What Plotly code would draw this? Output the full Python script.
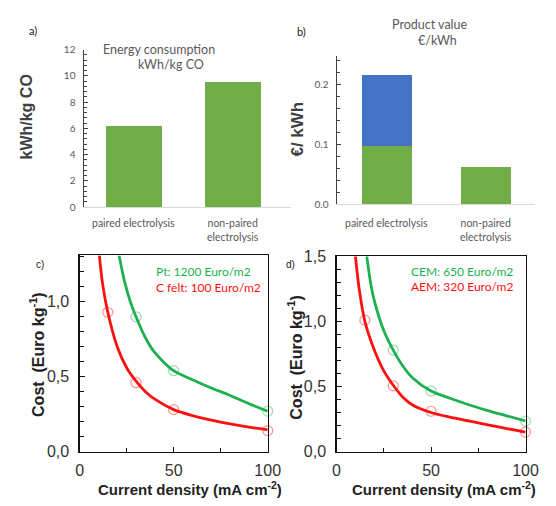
import plotly.graph_objects as go

W, H = 556, 506

# ---------------- data ----------------
bar_categories = ["paired electrolysis", "non-paired<br>electrolysis"]
energy_kwh_per_kg = [6.2, 9.55]
value_green = [0.097, 0.062]
value_blue = [0.119, 0.0]

# panel c (Pt / C felt)
c_pt_pts_x = [30, 50, 100]
c_pt_pts_y = [0.90, 0.54, 0.27]
c_cf_pts_x = [15, 30, 50, 100]
c_cf_pts_y = [0.93, 0.46, 0.28, 0.14]
c_pt_curve_x = [21, 24, 27, 30, 35, 40, 50, 60, 70, 80, 90, 100]
c_pt_curve_y = [1.31, 1.13, 1.00, 0.90, 0.76, 0.66, 0.54, 0.48, 0.425, 0.375, 0.32, 0.27]
c_cf_curve_x = [10.5, 12, 15, 20, 25, 30, 35, 40, 50, 60, 70, 80, 90, 100]
c_cf_curve_y = [1.31, 1.14, 0.93, 0.70, 0.56, 0.47, 0.40, 0.35, 0.28, 0.24, 0.21, 0.185, 0.163, 0.145]

# panel d (CEM / AEM)
d_cem_pts_x = [30, 50, 100]
d_cem_pts_y = [0.78, 0.465, 0.234]
d_aem_pts_x = [15, 30, 50, 100]
d_aem_pts_y = [1.01, 0.505, 0.31, 0.15]
d_cem_curve_x = [16, 18, 20, 25, 30, 35, 40, 50, 60, 70, 80, 90, 100]
d_cem_curve_y = [1.5, 1.3, 1.16, 0.93, 0.78, 0.66, 0.57, 0.465, 0.41, 0.36, 0.315, 0.275, 0.235]
d_aem_curve_x = [10, 12, 15, 20, 25, 30, 35, 40, 50, 60, 70, 80, 90, 100]
d_aem_curve_y = [1.5, 1.25, 1.0, 0.78, 0.62, 0.51, 0.42, 0.36, 0.30, 0.265, 0.235, 0.205, 0.177, 0.15]

c_ytick_vals = [0, 0.5, 1.0]
c_ytick_text = ["0,0", "0,5", "1,0"]
d_ytick_vals = [0, 0.5, 1.0, 1.5]
d_ytick_text = ["0,0", "0,5", "1,0", "1,5"]
x_tick_vals = [0, 50, 100]
x_tick_text = ["0", "50", "100"]

# ---------------- style ----------------
GREEN_BAR = "#70AD47"
BLUE_BAR = "#4472C4"
LGREEN = "#1DB04E"
LRED = "#FF1010"
OFFICE = "Lato, Carlito, sans-serif"
ARIAL = "Liberation Sans, Arial, sans-serif"

def fx(px):
    return px / W

def fy(py):
    return 1 - py / H

fig = go.Figure()

# panel a
fig.add_trace(go.Bar(x=bar_categories, y=energy_kwh_per_kg, marker_color=GREEN_BAR, marker_line_width=0,
                     width=0.57, xaxis="x", yaxis="y", showlegend=False))
# panel b
fig.add_trace(go.Bar(x=bar_categories, y=value_green, marker_color=GREEN_BAR, marker_line_width=0,
                     width=0.51, xaxis="x2", yaxis="y2", showlegend=False))
fig.add_trace(go.Bar(x=bar_categories, y=value_blue, marker_color=BLUE_BAR, marker_line_width=0,
                     width=0.51, xaxis="x2", yaxis="y2", showlegend=False))

def add_curve(x, y, color, xa, ya):
    fig.add_trace(go.Scatter(x=x, y=y, mode="lines", line=dict(color=color, width=2.8, shape="spline", smoothing=0.8),
                             xaxis=xa, yaxis=ya, showlegend=False))

def add_pts(x, y, color, xa, ya):
    fig.add_trace(go.Scatter(x=x, y=y, mode="markers",
                             marker=dict(symbol="circle-open", size=10, color=color, opacity=0.45, line=dict(width=1.2)),
                             cliponaxis=False, xaxis=xa, yaxis=ya, showlegend=False))

add_curve(c_pt_curve_x, c_pt_curve_y, LGREEN, "x3", "y3")
add_curve(c_cf_curve_x, c_cf_curve_y, LRED, "x3", "y3")
add_pts(c_pt_pts_x, c_pt_pts_y, LGREEN, "x3", "y3")
add_pts(c_cf_pts_x, c_cf_pts_y, LRED, "x3", "y3")

add_curve(d_cem_curve_x, d_cem_curve_y, LGREEN, "x4", "y4")
add_curve(d_aem_curve_x, d_aem_curve_y, LRED, "x4", "y4")
add_pts(d_cem_pts_x, d_cem_pts_y, LGREEN, "x4", "y4")
add_pts(d_aem_pts_x, d_aem_pts_y, LRED, "x4", "y4")

office_tick = dict(family=OFFICE, size=10, color="#595959")
arial_tick = dict(family=ARIAL, size=16, color="#333333")

bar_x = dict(type="category", showline=True, linecolor="#D9D9D9", linewidth=1, ticks="",
             showticklabels=False, showgrid=False, zeroline=False, fixedrange=True)

layout = dict(
    width=W, height=H, autosize=False,
    margin=dict(l=0, r=0, t=0, b=0),
    paper_bgcolor="white", plot_bgcolor="white",
    barmode="stack", bargap=0,
    xaxis=dict(bar_x, domain=[fx(83), fx(296)], range=[-0.5, 1.588], anchor="y"),
    yaxis=dict(domain=[fy(206), fy(43)], range=[0, 12], dtick=2, showline=True, linecolor="#404040",
               linewidth=1, ticks="inside", ticklen=4, tickcolor="#404040", showgrid=False, zeroline=False,
               minor=dict(dtick=0.4, ticks="inside", ticklen=3, tickcolor="#404040"),
               tickfont=office_tick, ticklabelstandoff=6, anchor="x"),
    xaxis2=dict(bar_x, domain=[fx(344), fx(548)], range=[-0.5, 1.5], anchor="y2"),
    yaxis2=dict(domain=[fy(203), fy(50)], range=[0, 0.247], tickvals=[0, 0.1, 0.2], tickformat=".1f",
                showline=True, linecolor="#404040", linewidth=1, ticks="inside", ticklen=4, tickcolor="#404040",
                showgrid=False, zeroline=False,
                minor=dict(dtick=0.02, ticks="inside", ticklen=3, tickcolor="#404040"),
                tickfont=office_tick, ticklabelstandoff=6, anchor="x2"),
)

def line_x(dom, anchor):
    return dict(domain=dom, range=[0, 100], tickmode="array", tickvals=x_tick_vals, ticktext=x_tick_text,
                showline=True, mirror=True, linecolor="#111111", linewidth=1.2,
                ticks="inside", ticklen=5, tickcolor="#111111",
                minor=dict(tickvals=[25, 75], ticks="inside", ticklen=4, tickcolor="#111111"),
                showgrid=False, zeroline=False, tickfont=arial_tick, ticklabelstandoff=4, anchor=anchor)

def line_y(dom, rng, vals, texts, anchor):
    return dict(domain=dom, range=rng, tickmode="array", tickvals=vals, ticktext=texts,
                showline=True, mirror=True, linecolor="#111111", linewidth=1.2,
                ticks="inside", ticklen=5, tickcolor="#111111",
                minor=dict(dtick=0.1, tick0=0, ticks="inside", ticklen=4, tickcolor="#111111"),
                showgrid=False, zeroline=False, tickfont=arial_tick, ticklabelstandoff=6, anchor=anchor)

layout["xaxis3"] = line_x([fx(78), fx(272)], "y3")
layout["yaxis3"] = line_y([fy(459), fy(256)], [0, 1.31], c_ytick_vals, c_ytick_text, "x3")
layout["xaxis4"] = line_x([fx(343), fx(538)], "y4")
layout["yaxis4"] = line_y([fy(459), fy(257)], [0, 1.5], d_ytick_vals, d_ytick_text, "x4")

fig.update_layout(**layout)

def ann(text, x, y, size, color, family, bold=False, angle=0, xanchor="center", yanchor="middle"):
    if bold:
        text = "<b>" + text + "</b>"
    fig.add_annotation(text=text, x=fx(x), y=fy(y), xref="paper", yref="paper", showarrow=False,
                       xanchor=xanchor, yanchor=yanchor, textangle=angle,
                       font=dict(size=size, color=color, family=family))

# category labels under the bars
for xr in ("x", "x2"):
    for i, cat in enumerate(bar_categories):
        fig.add_annotation(text=cat, x=i, xref=xr, y=fy(214), yref="paper", yanchor="top",
                           showarrow=False, align="center",
                           font=dict(family=OFFICE, size=10.5, color="#595959"))

# panel labels
ann("a)", 30, 23, 11, "#222222", OFFICE)
ann("b)", 307, 24, 11, "#222222", OFFICE)
ann("c)", 37, 265, 10, "#222222", ARIAL)
ann("d)", 296, 265, 10, "#222222", ARIAL)

# panel a / b titles
ann("Energy consumption", 160, 43, 12.5, "#595959", OFFICE)
ann("kWh/kg CO", 172, 58, 12.5, "#595959", OFFICE)
ann("Product value", 439, 17, 12.5, "#595959", OFFICE)
ann("€/kWh", 447, 34, 12.5, "#595959", OFFICE)
ann("kWh/kg CO", 23, 113, 16, "#404040", ARIAL, bold=True, angle=-90)
ann("€/ kWh", 303, 125, 17, "#404040", ARIAL, bold=True, angle=-90)

# panel c / d legends
ann("Pt: 1200 Euro/m2", 155, 273, 12, LGREEN, OFFICE, xanchor="left")
ann("C felt: 100 Euro/m2", 155, 289, 12, LRED, OFFICE, xanchor="left")
ann("CEM: 650 Euro/m2", 418, 273, 12, LGREEN, OFFICE, xanchor="left")
ann("AEM: 320 Euro/m2", 418, 288, 12, LRED, OFFICE, xanchor="left")

# axis titles c / d
ytitle = "Cost  (Euro kg<sup>-1</sup>)"
xtitle = "Current density (mA cm<sup>-2</sup>)"
ann(ytitle, 34, 358, 16, "#222222", ARIAL, bold=True, angle=-90)
ann(ytitle, 300, 361, 16, "#222222", ARIAL, bold=True, angle=-90)
ann(xtitle, 192, 497, 15, "#222222", ARIAL, bold=True)
ann(xtitle, 454, 497, 15, "#222222", ARIAL, bold=True)

fig.write_html("out.html",
               config={"displayModeBar": False, "staticPlot": True},
               post_script="document.body.style.margin='0';document.body.style.overflow='hidden';")
